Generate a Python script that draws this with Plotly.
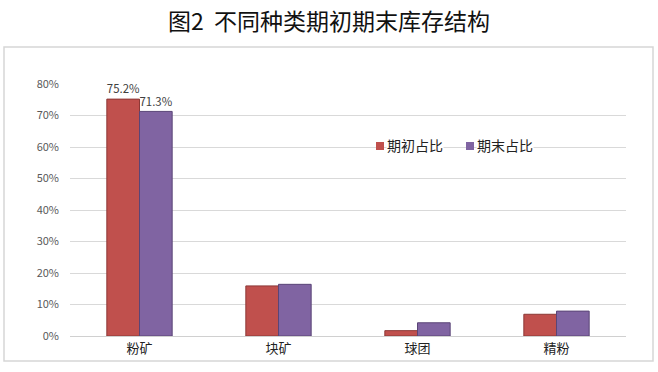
import plotly.graph_objects as go

categories = ["粉矿", "块矿", "球团", "精粉"]
begin_share = [75.2, 15.9, 1.7, 6.9]
end_share = [71.3, 16.4, 4.2, 7.9]
begin_labels = ["75.2%", "", "", ""]
end_labels = ["71.3%", "", "", ""]
y_ticks = [0, 10, 20, 30, 40, 50, 60, 70, 80]
series_names = ["期初占比", "期末占比"]
series_colors = ["#C0504D", "#8064A2"]
series_edges = ["#8C3836", "#5A4577"]

FONT = "Noto Sans CJK SC"
L, R, T, B = 70, 32, 84, 36
W, H = 658, 372
pw, ph = W - L - R, H - T - B

def px(x):
    return (x - L) / pw

def py(y):
    return (H - B - y) / ph

fig = go.Figure()
for vals, labels, name, col, edge in zip([begin_share, end_share], [begin_labels, end_labels],
                                         series_names, series_colors, series_edges):
    fig.add_trace(go.Bar(
        x=categories, y=vals, name=name,
        marker=dict(color=col, line=dict(color=edge, width=1)),
        text=labels, textposition="outside", cliponaxis=False,
        textfont=dict(size=12, color="#404040", family=FONT),
        showlegend=False,
    ))

annotations = [dict(text="图2  不同种类期初期末库存结构", xref="paper", yref="paper",
                    x=px(329), y=py(20), xanchor="center", yanchor="middle",
                    showarrow=False, font=dict(size=23, color="#111111", family=FONT))]
shapes = [dict(type="rect", xref="paper", yref="paper",
               x0=px(4), x1=px(653), y0=py(361), y1=py(47),
               line=dict(color="#d6d6d6", width=1.5), fillcolor="rgba(0,0,0,0)", layer="below")]

legend_x = [376, 466]
for lx, name, col in zip(legend_x, series_names, series_colors):
    shapes.append(dict(type="rect", xref="paper", yref="paper",
                       x0=px(lx), x1=px(lx + 8), y0=py(150), y1=py(142),
                       line=dict(color=col, width=0), fillcolor=col))
    annotations.append(dict(text=name, xref="paper", yref="paper",
                            x=px(lx + 10), y=py(145), xanchor="left", yanchor="middle",
                            showarrow=False, bgcolor="white", borderpad=0,
                            font=dict(size=14, color="#222222", family=FONT)))

fig.update_layout(
    width=W, height=H,
    margin=dict(l=L, r=R, t=T, b=B),
    paper_bgcolor="white", plot_bgcolor="white",
    barmode="group", bargap=0.53, bargroupgap=0,
    font=dict(family=FONT, color="#404040"),
    xaxis=dict(showgrid=False, showline=True, linecolor="#d0d0d0", linewidth=1,
               ticks="", tickfont=dict(size=13, color="#222222", family=FONT)),
    yaxis=dict(range=[0, 80], tickvals=y_ticks, ticktext=[f"{v}%" for v in y_ticks],
               showgrid=True, gridcolor="#d9d9d9", gridwidth=1, zeroline=False,
               showline=False, tickfont=dict(size=11, color="#595959", family=FONT),
               ticks="", ticklabelstandoff=10),
    annotations=annotations,
    shapes=shapes,
)

fig.write_html("out.html")
